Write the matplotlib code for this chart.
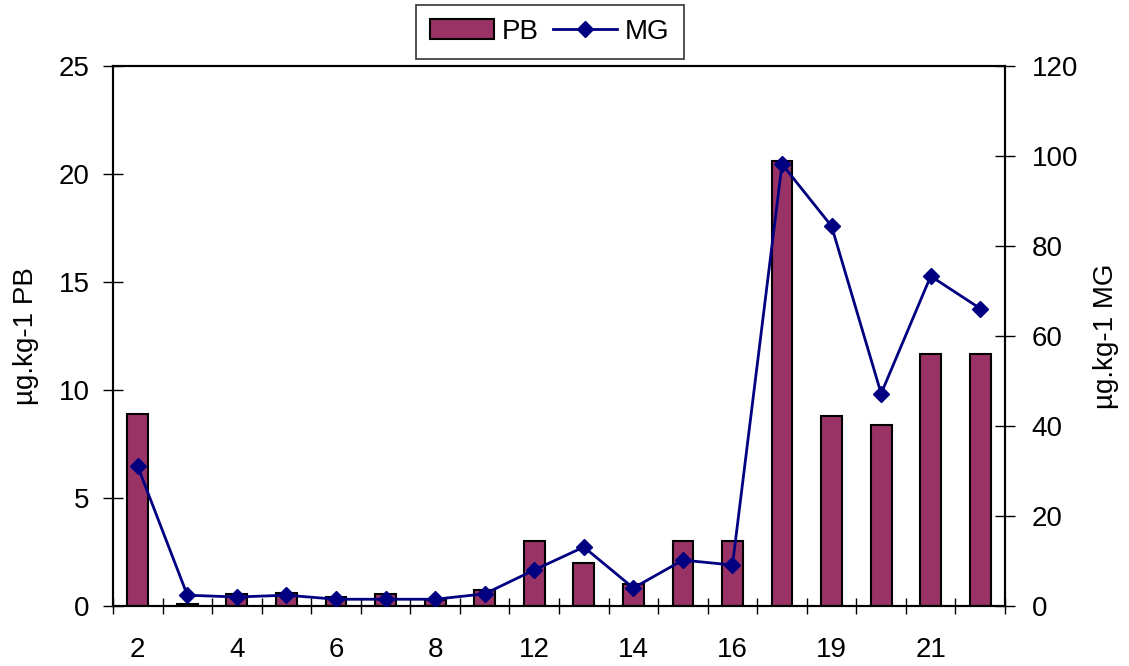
import matplotlib.pyplot as plt
import numpy as np

plt.rcParams['font.family'] = ['Liberation Sans', 'DejaVu Sans']

# data
categories = ['2', '3', '4', '5', '6', '7', '8', '9', '12', '13', '14', '15',
              '16', '17', '19', '20', '21', '22']
pb = [8.9, 0.1, 0.55, 0.6, 0.4, 0.55, 0.3, 0.74, 3.0, 2.0, 1.0, 3.0,
      3.0, 20.6, 8.8, 8.4, 11.65, 11.65]
mg = [31.0, 2.4, 2.0, 2.4, 1.5, 1.5, 1.5, 2.7, 8.0, 13.1, 4.0, 10.2,
      9.1, 98.2, 84.4, 47.2, 73.3, 66.1]

x = np.arange(len(categories))

fig = plt.figure(figsize=(11.29, 6.66), dpi=100)
ax = fig.add_axes([0.1001, 0.0901, 0.7901, 0.8108])
bx = ax.twinx()

bars = ax.bar(x, pb, width=0.42, color='#993366', edgecolor='black', lw=1.5,
              label='PB', zorder=2)
line, = bx.plot(x, mg, color='#000080', lw=2, marker='D', markersize=8,
                label='MG', zorder=3)

ax.set_xlim(-0.5, len(categories) - 0.5)
ax.set_ylim(0, 25)
bx.set_ylim(0, 120)
ax.set_yticks(np.arange(0, 26, 5))
bx.set_yticks(np.arange(0, 121, 20))

# labels on every other category, tick marks on category boundaries
ax.set_xticks(x[::2])
ax.set_xticklabels(categories[::2])
ax.set_xticks(np.arange(-0.5, len(categories), 1), minor=True)
ax.tick_params(axis='x', which='major', length=0, pad=22, labelsize=20)
ax.tick_params(axis='x', which='minor', direction='inout', length=12, width=1)
ax.tick_params(axis='y', direction='inout', length=14, width=1, labelsize=20, pad=10)
bx.tick_params(axis='y', direction='inout', length=14, width=1, labelsize=20, pad=12)

ax.set_ylabel('µg.kg-1 PB', fontsize=20, labelpad=14)
bx.set_ylabel('µg.kg-1 MG', fontsize=20, labelpad=11)

for a in (ax, bx):
    for s in a.spines.values():
        s.set_linewidth(1.5)

ax.set_zorder(bx.get_zorder() - 1)
ax.patch.set_visible(False)

leg = fig.legend([bars, line], ['PB', 'MG'], loc='upper center',
                 bbox_to_anchor=(0.487, 0.9925), ncol=2, fontsize=20,
                 frameon=True, fancybox=False, edgecolor='black',
                 handlelength=2.3, columnspacing=0.5, handletextpad=0.3,
                 borderpad=0.5, borderaxespad=0)
leg.get_frame().set_linewidth(1.2)

fig.savefig('out.png', dpi=100)
